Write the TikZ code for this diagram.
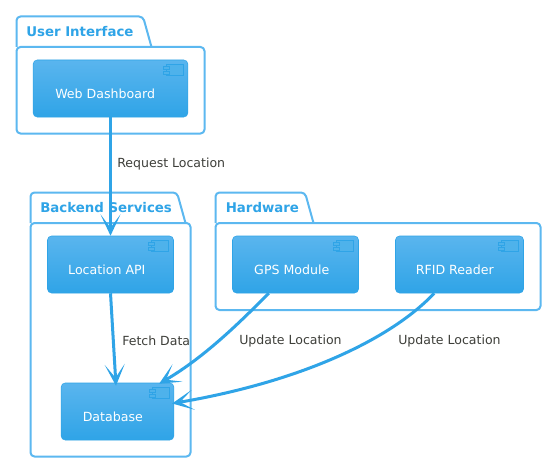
\documentclass[tikz,border=0pt]{standalone}
\usepackage{fontspec}
\setmainfont{DejaVu Sans}
\usetikzlibrary{arrows.meta}
\definecolor{mainblue}{HTML}{2FA4E7}
\definecolor{lightblue}{HTML}{5AB5EE}
\definecolor{pkgblue}{HTML}{5CB8F0}
\definecolor{labelgrey}{HTML}{3E3F3A}
\tikzset{
  x=0.75pt,y=-0.75pt,
  comp/.style={rectangle,rounded corners=3pt,draw=mainblue,line width=0.4pt,top color=lightblue,bottom color=mainblue,inner sep=0pt,minimum height=42.75pt,text=white,text height=15.4pt,text depth=0pt,font=\fontsize{9.45pt}{11pt}\selectfont},
  pkg/.style={draw=pkgblue,line width=1.5pt,rounded corners=3pt,line join=round},
  pkgtitle/.style={anchor=west,inner sep=0pt,text=mainblue,font=\fontsize{10pt}{11pt}\selectfont\bfseries},
  edgelabel/.style={anchor=west,inner sep=0pt,text=labelgrey,font=\fontsize{9.4pt}{11pt}\selectfont},
  flow/.style={draw=mainblue,line width=2.25pt,-{Stealth[length=16pt,width=15pt,inset=10pt]}},
  iconpart/.style={draw=mainblue,line width=0.6pt,fill=mainblue!85!white},
}
\newcommand{\compicon}[1]{%
  \path[iconpart] ([shift={(-22,5)}]#1.north east) rectangle ([shift={(-5,16)}]#1.north east);
  \path[iconpart] ([shift={(-25,7)}]#1.north east) rectangle ([shift={(-19,10)}]#1.north east);
  \path[iconpart] ([shift={(-25,12)}]#1.north east) rectangle ([shift={(-19,15)}]#1.north east);
}
\begin{document}
\begin{tikzpicture}
\useasboundingbox (0,0) rectangle (552,467);
\fill[white] (0,0) rectangle (552,467);
% packages
\draw[pkg] (16.5,47) -- (16.5,16.5) -- (143,16.5) -- (151.5,47);
\draw[pkg] (16.5,47) rectangle (204.5,133.5);
\node[pkgtitle] (t1) at (26,31.5) {User Interface};
\draw[pkg] (30.5,223) -- (30.5,192.5) -- (177,192.5) -- (185.5,223);
\draw[pkg] (30.5,223) rectangle (190.5,456.5);
\node[pkgtitle] (t2) at (40,207.5) {Backend Services};
\draw[pkg] (215.5,223) -- (215.5,192.5) -- (305,192.5) -- (313.5,223);
\draw[pkg] (215.5,223) rectangle (540.5,310);
\node[pkgtitle] (t3) at (225.5,207.5) {Hardware};
% components
\node[comp,minimum width=116pt] (web) at (110.5,88.5) {\hspace*{-8pt}Web Dashboard};
\node[comp,minimum width=94.5pt] (api) at (110.5,264.5) {\hspace*{-5.5pt}Location API};
\node[comp,minimum width=84.5pt] (db) at (117.5,411.5) {\hspace*{-7pt}Database};
\node[comp,minimum width=94.5pt] (gps) at (295.5,264.5) {\hspace*{-5.5pt}GPS Module};
\node[comp,minimum width=96pt] (rfid) at (459.5,264.5) {\hspace*{-7pt}RFID Reader};
\compicon{web}\compicon{api}\compicon{db}\compicon{gps}\compicon{rfid}
% edge end points
\coordinate (gpsout) at ([xshift=-20pt]gps.south);
\coordinate (rfidout) at ([xshift=-19pt]rfid.south);
\coordinate (dbin) at ([shift={(-1.5,3)}]db.north);
\coordinate (dbgps) at ([shift={(-15,1)}]db.north east);
\coordinate (dbrfid) at ([shift={(-2,-8)}]db.east);
% connectors
\draw[flow] (web.south) -- (api.north);
\draw[flow] (api.south) -- (dbin);
\draw[flow] (gpsout) .. controls (240,322) and (205,357) .. (dbgps);
\draw[flow] (rfidout) .. controls (395,335) and (310,380) .. (dbrfid);
% labels
\node[edgelabel] (l1) at (117,164.5) {Request Location};
\node[edgelabel] (l2) at (122,341) {Fetch Data};
\node[edgelabel] (l3) at (239,341) {Update Location};
\node[edgelabel] (l4) at (398,341) {Update Location};
\end{tikzpicture}
\end{document}
